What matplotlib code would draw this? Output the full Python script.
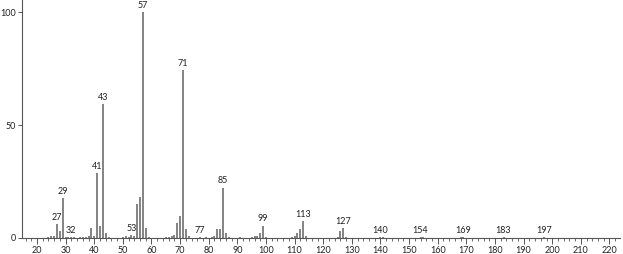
import matplotlib
matplotlib.use("Agg")
import matplotlib.pyplot as plt
from matplotlib.ticker import MultipleLocator

mz = [24, 25, 26, 27, 28, 29, 30, 31, 32, 33, 35, 36, 37, 38, 39, 40, 41, 42, 43, 44, 45,
      50, 51, 52, 53, 54, 55, 56, 57, 58, 59, 65, 66, 67, 68, 69, 70, 71, 72, 73, 77, 79,
      81, 82, 83, 84, 85, 86, 87, 91, 95, 96, 97, 98, 99, 100, 109, 110, 111, 112, 113, 114,
      125, 126, 127, 128, 140, 141, 154, 155, 168, 169, 183, 197]
intensity = [0.5, 0.8, 0.8, 6.2, 3.0, 17.8, 0.6, 0.4, 0.5, 0.3, 0.5, 0.4, 0.6, 0.8, 4.3, 0.7, 28.8, 5.2, 59.3, 2.0, 0.6,
             0.5, 0.7, 0.6, 1.3, 1.0, 15.0, 18.3, 100.0, 4.3, 0.5, 0.4, 0.5, 0.8, 1.2, 6.8, 9.7, 74.3, 3.8, 1.0, 0.5, 0.5,
             0.6, 0.7, 3.8, 3.8, 22.3, 2.0, 0.4, 0.4, 0.5, 0.7, 1.0, 2.0, 5.5, 0.6, 0.4, 1.0, 2.0, 4.0, 7.5, 0.7,
             0.5, 3.2, 4.3, 0.6, 0.4, 0.3, 0.4, 0.3, 0.3, 0.4, 0.4, 0.3]
labels = [27, 29, 32, 41, 43, 53, 57, 71, 77, 85, 99, 113, 127, 140, 154, 169, 183, 197]

fig = plt.figure(figsize=(6.23, 2.54), dpi=100)
ax = fig.add_axes([0.0353, 0.063, 0.96, 0.937])
color = "#7a7a7a"
ax.vlines(mz, 0, intensity, colors=color, linewidth=1.3)
lookup = dict(zip(mz, intensity))
for m in labels:
    ax.text(m, lookup.get(m, 0) + 1.0, str(m), ha="center", va="bottom",
            fontsize=6.5, color="#222222", family="Lato")

ax.set_xlim(14.76, 223.7)
ax.set_ylim(0, 105.5)
ax.xaxis.set_major_locator(MultipleLocator(10))
ax.xaxis.set_minor_locator(MultipleLocator(2))
ax.set_yticks([0, 50, 100])
ax.set_yticklabels(["0", "50", "100"])
for s in ["top", "right"]:
    ax.spines[s].set_visible(False)
for s in ["left", "bottom"]:
    ax.spines[s].set_color("#555555")
    ax.spines[s].set_linewidth(0.8)
ax.tick_params(axis="x", which="major", length=4, direction="out", width=0.7,
               colors="#555555", labelsize=6.5, labelcolor="#222222", pad=2)
ax.tick_params(axis="x", which="minor", length=2, direction="out", width=0.6, colors="#555555")
ax.tick_params(axis="y", length=3, direction="out", width=0.7, colors="#555555",
               labelsize=6.5, labelcolor="#222222", pad=1)
for lab in ax.get_xticklabels() + ax.get_yticklabels():
    lab.set_family("Lato")

fig.savefig("out.png", dpi=100)
